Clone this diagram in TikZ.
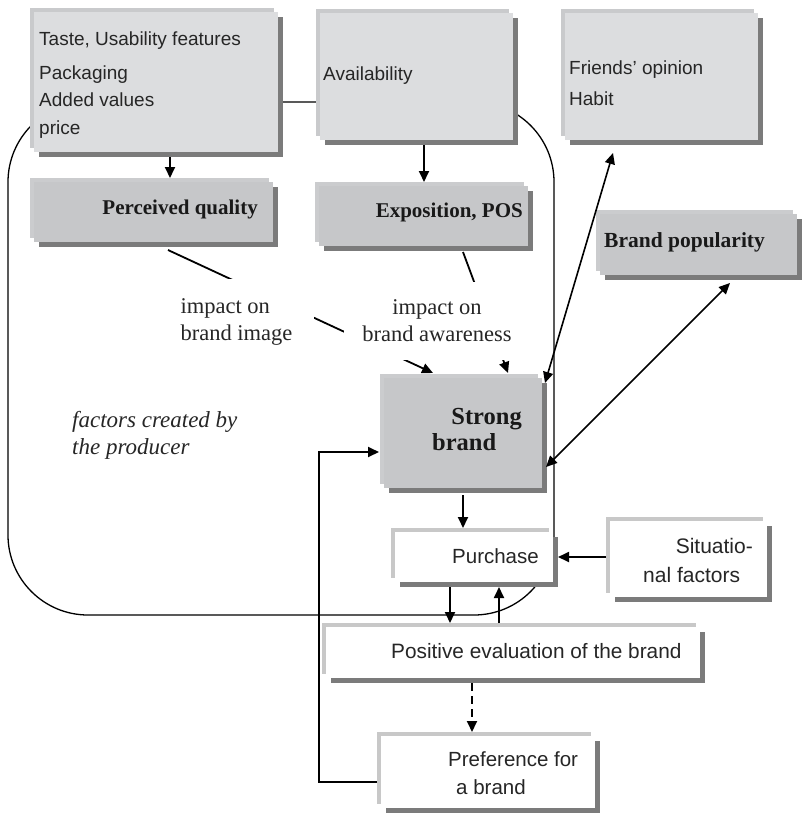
\documentclass[tikz,border=0pt]{standalone}
\usepackage{fontspec}
\setmainfont{Liberation Serif}
\setsansfont{Liberation Sans}
\usetikzlibrary{arrows.meta,shadows}
\definecolor{lfront}{HTML}{DCDDDF}
\definecolor{lback}{HTML}{C9CACC}
\definecolor{dfront}{HTML}{C6C7C9}
\definecolor{dback}{HTML}{CBCCCE}
\definecolor{wback}{HTML}{C8C8C8}
\definecolor{shade}{HTML}{7B7B7B}
\tikzset{
  boxbase/.style={inner sep=0pt, outer sep=0pt},
  lbox/.style={boxbase, fill=lfront,
    general shadow={shadow xshift=-4pt, shadow yshift=4pt, fill=lback},
    general shadow={shadow xshift=5pt, shadow yshift=-5pt, fill=shade}},
  dbox/.style={boxbase, fill=dfront,
    general shadow={shadow xshift=-4pt, shadow yshift=4pt, fill=dback},
    general shadow={shadow xshift=5pt, shadow yshift=-5pt, fill=shade}},
  wbox/.style={boxbase, fill=white,
    general shadow={shadow xshift=-4pt, shadow yshift=4pt, fill=wback},
    general shadow={shadow xshift=5pt, shadow yshift=-5pt, fill=shade}},
  tsans/.style={inner sep=0pt, anchor=base west, text=black!85, font=\sffamily\fontsize{19}{23}\selectfont},
  tsansb/.style={inner sep=0pt, anchor=base west, text=black!85, font=\sffamily\fontsize{20.5}{24}\selectfont},
  tbold/.style={inner sep=0pt, text=black!90, font=\bfseries\fontsize{21}{25}\selectfont},
  tlabel/.style={fill=white, align=center, text=black!85, font=\fontsize{22.5}{27}\selectfont},
  arr/.style={line width=1.8pt, -{Triangle[length=11pt,width=10pt]}},
  darr/.style={line width=1.6pt, {Triangle[length=11pt,width=10pt]}-{Triangle[length=11pt,width=10pt]}},
}
\begin{document}
\begin{tikzpicture}[x=1pt,y=-1pt]
\useasboundingbox (0,0) rectangle (802,814);
% producer frame
\draw[line width=1.3pt, rounded corners=80pt] (8,102) rectangle (554,615);
% boxes
\node[lbox, minimum width=244pt, minimum height=140pt] (A) at (156,82) {};
\node[lbox, minimum width=193pt, minimum height=127pt] (B) at (416.5,76.5) {};
\node[lbox, minimum width=193pt, minimum height=127pt] (C) at (661.5,76.5) {};
\node[dbox, minimum width=239pt, minimum height=60pt] (D) at (153.5,212) {};
\node[dbox, minimum width=209pt, minimum height=60pt] (E) at (423.5,216) {};
\node[dbox, minimum width=197pt, minimum height=61pt] (F) at (698.5,244.5) {};
\node[dbox, minimum width=158pt, minimum height=110pt] (G) at (463,433) {};
\node[wbox, minimum width=158pt, minimum height=50pt] (H) at (474,557) {};
\node[wbox, minimum width=157pt, minimum height=76pt] (S) at (688.5,559) {};
\node[wbox, minimum width=374pt, minimum height=51pt] (P) at (513,652.5) {};
\node[wbox, minimum width=214pt, minimum height=72pt] (R) at (488,772) {};
% connectors
\draw[arr] ([xshift=14pt,yshift=-5pt]A.south) -- ([xshift=16.5pt,yshift=4pt]D.north);
\draw[arr] ([xshift=7.5pt,yshift=-5pt]B.south) -- ([xshift=0.5pt,yshift=4pt]E.north);
\draw[arr] ([xshift=14.5pt,yshift=-8pt]D.south) -- ([xshift=49pt,yshift=5pt]G.north west);
\draw[arr] ([xshift=39.5pt,yshift=-6pt]E.south) -- ([xshift=124pt,yshift=5pt]G.north west);
\draw[darr] ([xshift=3pt,yshift=-5pt]G.north east) -- ([xshift=-48.5pt,yshift=-13pt]C.south);
\draw[darr] ([xshift=4pt,yshift=-34pt]G.east) -- ([xshift=31.5pt,yshift=-8pt]F.south);
\draw[arr] ([yshift=-7pt]G.south) -- ([xshift=-11pt,yshift=4pt]H.north);
\draw[arr] ([xshift=-24pt,yshift=-5pt]H.south) -- ([xshift=-63pt,yshift=4pt]P.north);
\draw[arr] ([xshift=-14pt,yshift=4pt]P.north) -- ([xshift=25pt,yshift=-5pt]H.south);
\draw[arr] ([xshift=-4pt,yshift=2pt]S.west) -- ([xshift=5pt,yshift=0pt]H.east);
\draw[arr, dash pattern=on 8pt off 5pt] ([xshift=-41pt,yshift=-5pt]P.south) -- ([xshift=-16pt,yshift=4pt]R.north);
\draw[arr] ([xshift=-4pt,yshift=-10pt]R.west) -- (319,782) -- (319,452) -- ([xshift=-5pt,yshift=-19pt]G.west);
% labels on connectors
\node[tlabel, align=left, inner xsep=22pt, inner ysep=20pt] (L1) at (236.5,322) {impact on\\brand image};
\node[tlabel, inner xsep=18pt, inner ysep=18pt] (L2) at (437,321) {impact on\\brand awareness};
% box texts
\node[tsans] (A1) at (39,45) {Taste, Usability features};
\node[tsans] (A2) at (39,79) {Packaging};
\node[tsans] (A3) at (39,106) {Added values};
\node[tsans] (A4) at (39,134) {price};
\node[tsans] (B1) at (323,80) {Availability};
\node[tsans] (C1) at (569,74) {Friends’ opinion};
\node[tsans] (C2) at (569,105) {Habit};
\node[tbold, anchor=base east] (D1) at (258,214) {Perceived quality};
\node[tbold, anchor=base east] (E1) at (523,217) {Exposition, POS};
\node[tbold, anchor=base west, font=\bfseries\fontsize{21.5}{25}\selectfont] (F1) at (604,247) {Brand popularity};
\node[tbold, anchor=base east, font=\bfseries\fontsize{24.5}{28}\selectfont] (G1) at (522,424) {Strong};
\node[tbold, anchor=base west, font=\bfseries\fontsize{24.5}{28}\selectfont] (G2) at (432,450) {brand};
\node[tsansb, anchor=base east] (H1) at (539,563) {Purchase};
\node[tsansb, anchor=base east, font=\sffamily\fontsize{21}{25}\selectfont] (S1) at (753,553) {Situatio-};
\node[tsansb, font=\sffamily\fontsize{21}{25}\selectfont] (S2) at (643,582) {nal factors};
\node[tsansb, font=\sffamily\fontsize{20.8}{25}\selectfont] (P1) at (391,658) {Positive evaluation of the brand};
\node[tsansb] (R1) at (448,766) {Preference for};
\node[tsansb] (R2) at (456,794) {a brand};
\node[inner sep=0pt, anchor=base west, text=black!85, font=\itshape\fontsize{23}{27}\selectfont] (I1) at (72,427) {factors created by};
\node[inner sep=0pt, anchor=base west, text=black!85, font=\itshape\fontsize{23}{27}\selectfont] (I2) at (72,454) {the producer};
\end{tikzpicture}
\end{document}
